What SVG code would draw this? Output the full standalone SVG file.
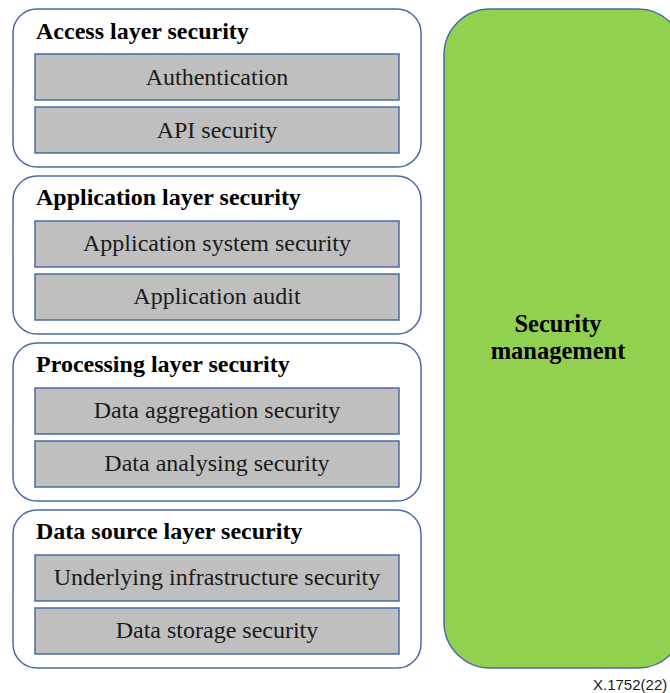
<svg xmlns="http://www.w3.org/2000/svg" width="670" height="693" viewBox="0 0 670 693">
<style>
.layer{fill:#fff;stroke:#4a6aa5;stroke-width:1.5}
.item{fill:#bfbfbf;stroke:#4a6aa5;stroke-width:1.5}
.title{font-family:"Liberation Serif",serif;font-weight:bold;font-size:24px;fill:#000}
.lbl{font-family:"Liberation Serif",serif;font-size:24px;fill:#1a1a1a;text-anchor:middle}
.mgmt{font-family:"Liberation Serif",serif;font-weight:bold;font-size:24.5px;fill:#000;text-anchor:middle}
</style>
<rect width="670" height="693" fill="#fff"/>
<g id="access">
<rect class="layer" x="13" y="9" width="408" height="158" rx="24"/>
<text class="title" x="36" y="39">Access layer security</text>
<rect class="item" x="35" y="54" width="364" height="46"/>
<text class="lbl" x="217" y="85">Authentication</text>
<rect class="item" x="35" y="107" width="364" height="46"/>
<text class="lbl" x="217" y="138">API security</text>
</g>
<g id="application">
<rect class="layer" x="13" y="176" width="408" height="158" rx="24"/>
<text class="title" x="36" y="205">Application layer security</text>
<rect class="item" x="35" y="221" width="364" height="46"/>
<text class="lbl" x="217" y="251">Application system security</text>
<rect class="item" x="35" y="274" width="364" height="46"/>
<text class="lbl" x="217" y="304">Application audit</text>
</g>
<g id="processing">
<rect class="layer" x="13" y="343" width="408" height="158" rx="24"/>
<text class="title" x="36" y="372">Processing layer security</text>
<rect class="item" x="35" y="388" width="364" height="46"/>
<text class="lbl" x="217" y="418">Data aggregation security</text>
<rect class="item" x="35" y="441" width="364" height="46"/>
<text class="lbl" x="217" y="471">Data analysing security</text>
</g>
<g id="datasource">
<rect class="layer" x="13" y="510" width="408" height="158" rx="24"/>
<text class="title" x="36" y="539">Data source layer security</text>
<rect class="item" x="35" y="555" width="364" height="46"/>
<text class="lbl" x="217" y="585">Underlying infrastructure security</text>
<rect class="item" x="35" y="608" width="364" height="46"/>
<text class="lbl" x="217" y="638">Data storage security</text>
</g>
<g id="management">
<rect x="444" y="9" width="240" height="659" rx="46" fill="#92d050" stroke="#4a6aa5" stroke-width="1.5"/>
<text class="mgmt" x="558" y="332">Security</text>
<text class="mgmt" x="558" y="359">management</text>
</g>
<g id="connectors"></g>
<text x="593" y="690" font-family="Liberation Sans,Arial,sans-serif" font-size="15" fill="#1a1a1a">X.1752(22)</text>
</svg>
